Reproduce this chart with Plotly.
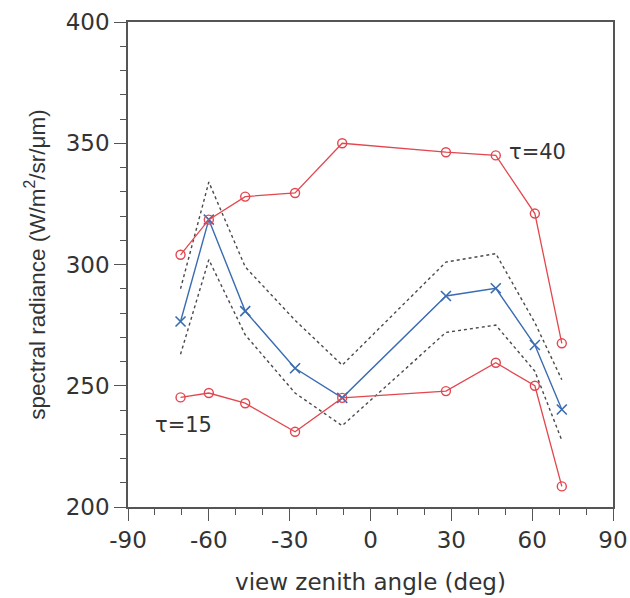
import plotly.graph_objects as go

# View zenith angles of the measurement points (deg)
angles = [-70.5, -60, -46.5, -28, -10.5, 28, 46.5, 61, 71]

# Simulated radiance for two optical depths
tau40 = [304, 318.5, 328, 329.5, 350, 346.3, 345, 321, 267.5]
tau15 = [245.2, 247, 242.8, 231, 245, 247.8, 259.5, 250, 208.5]

# Observed radiance and its upper/lower envelope
observed = [276.5, 318.5, 280.8, 257.2, 245, 287, 290.2, 266.8, 240.2]
obs_upper = [290, 334, 299, 277, 258.5, 301, 304.5, 276, 252.5]
obs_lower = [263, 302, 271, 247, 233.5, 272, 275, 256, 227.5]

tau_labels = ["τ=40", "τ=15"]
tau_label_x = [62, -69.5]
tau_label_y = [346.5, 234]

red = "#e2474f"
blue = "#3a6cb2"
dotc = "#4a4a4a"
wide_font = "DejaVu Sans, Verdana, sans-serif"
narrow_font = "Liberation Sans, Arial, Helvetica, sans-serif"
text_col = "#333333"

fig = go.Figure()

for env in (obs_upper, obs_lower):
    fig.add_trace(go.Scatter(
        x=angles, y=env, mode="lines",
        line=dict(color=dotc, width=1.4, dash="3px,3px"),
        showlegend=False, hoverinfo="skip"))

fig.add_trace(go.Scatter(
    x=angles, y=observed, mode="lines+markers",
    line=dict(color=blue, width=1.4),
    marker=dict(symbol="x-thin-open", size=10, line=dict(color=blue, width=1.6)),
    showlegend=False))

for series in (tau40, tau15):
    fig.add_trace(go.Scatter(
        x=angles, y=series, mode="lines+markers",
        line=dict(color=red, width=1.3),
        marker=dict(symbol="circle-open", size=9, color=red,
                    line=dict(color=red, width=1.4)),
        showlegend=False))

for lab, lx, ly in zip(tau_labels, tau_label_x, tau_label_y):
    fig.add_annotation(x=lx, y=ly, text=lab, showarrow=False,
                       font=dict(family=wide_font, size=21, color=text_col))

axis_common = dict(
    automargin=False,
    showgrid=False, zeroline=False,
    showline=True, linecolor="#555555", linewidth=1.5, mirror=True,
    ticks="outside", ticklen=12, tickwidth=1.3, tickcolor="#555555",
    tickfont=dict(family=wide_font, size=23, color=text_col),
)

fig.update_xaxes(
    range=[-90, 90], tickmode="array",
    tickvals=[-90, -60, -30, 0, 30, 60, 90],
    ticktext=["-90", "-60", "-30", "0", "30", "60", "90"],
    minor=dict(dtick=10, ticks="outside", ticklen=6, tickwidth=1.2, tickcolor="#555555"),
    title_text="view zenith angle (deg)", title_standoff=22,
    title_font=dict(family=wide_font, size=23, color=text_col),
    **axis_common)

fig.update_yaxes(
    range=[200, 400], tickmode="array",
    tickvals=[200, 250, 300, 350, 400],
    ticktext=["200", "250", "300", "350", "400"],
    minor=dict(dtick=10, ticks="outside", ticklen=6, tickwidth=1.2, tickcolor="#555555"),
    title_text="spectral radiance (W/m<sup>2</sup>/sr/μm)", title_standoff=14,
    title_font=dict(family=narrow_font, size=22.5, color=text_col),
    **axis_common)

fig.update_layout(
    width=630, height=598,
    margin=dict(l=128, r=17, t=22, b=91),
    paper_bgcolor="white", plot_bgcolor="white",
)

fig.write_html("out.html")
